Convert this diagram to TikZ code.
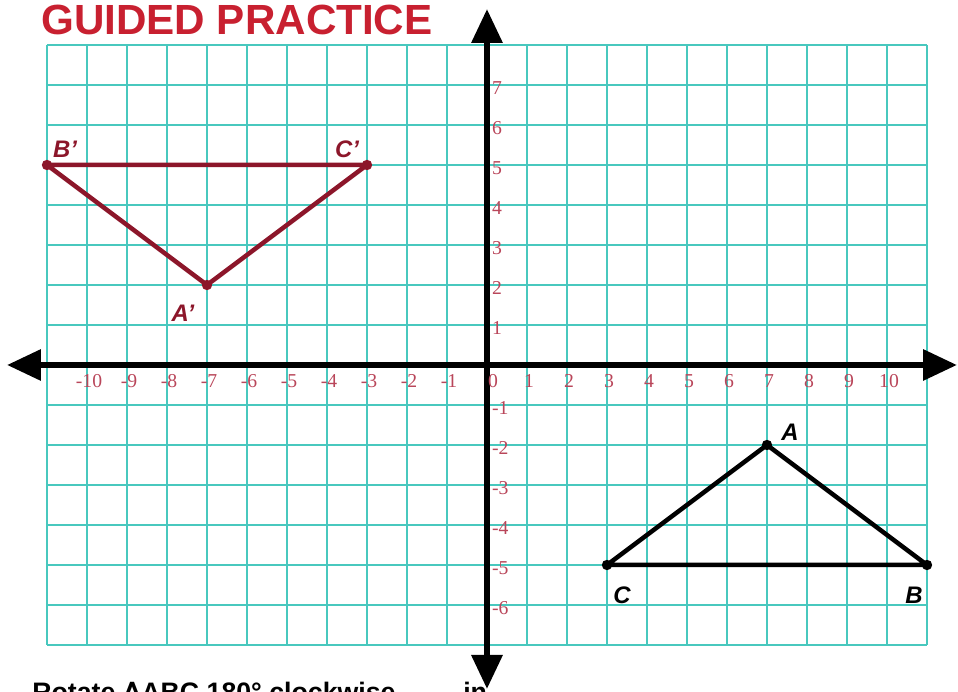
\documentclass[tikz,border=0pt]{standalone}
\usepackage{fontspec}
\setmainfont{Liberation Sans}
\newfontfamily\numfont{Liberation Serif}
\newfontfamily\symfont{DejaVu Sans}
\usepackage{tikz}
\usetikzlibrary{arrows.meta, positioning}

\definecolor{gridteal}{RGB}{72,200,190}
\definecolor{titlered}{RGB}{200,32,48}
\definecolor{primered}{RGB}{140,22,42}
\definecolor{ticklbl}{RGB}{185,70,90}

\begin{document}
\begin{tikzpicture}[
    grid_line/.style={gridteal, line width=1.4pt},
    axis_line/.style={line width=4.5pt, {Triangle[length=0.85cm,width=0.75cm]}-{Triangle[length=0.85cm,width=0.75cm]}},
    tick_lbl/.style={text=ticklbl, font=\numfont\fontsize{14}{14}\selectfont, inner sep=0pt},
    pt_node/.style={circle, fill, inner sep=0pt, minimum size=0.26cm},
    pt_lbl/.style={font=\bfseries\itshape\fontsize{17}{17}\selectfont, inner sep=0pt},
    tri_line/.style={line width=3.2pt, line join=round}
    ]
    \useasboundingbox (-12.175,-8.175) rectangle (11.775,9.125);

    % Title
    \node[anchor=base west, inner sep=0pt, text=titlered, font=\bfseries\fontsize{30}{30}\selectfont] (title) at (-11.15,8.25) {GUIDED PRACTICE};

    % Grid
    \draw[grid_line] (-11,-7) grid (11,8);

    % Axes
    \coordinate (xl) at (-12.0,0);
    \coordinate (xr) at (11.75,0);
    \coordinate (yb) at (0,-8.1);
    \coordinate (yt) at (0,8.9);
    \draw[axis_line] (xl) -- (xr);
    \draw[axis_line] (yb) -- (yt);

    % Tick labels
    \foreach \i in {-10,...,-1,1,2,...,10}
        \node[tick_lbl] (x\i) at (\i+0.05,-0.4) {\i};
    \node[tick_lbl] (x0) at (0.15,-0.4) {0};
    \foreach \j in {-6,...,-1,1,2,...,7}
        \node[tick_lbl, anchor=west] (y\j) at (0.12,\j-0.08) {\j};

    % Triangle ABC
    \node[pt_node] (A) at (7,-2) {};
    \node[pt_node] (B) at (11,-5) {};
    \node[pt_node] (C) at (3,-5) {};
    \draw[tri_line] (A.center) -- (B.center) -- (C.center) -- cycle;
    \node[pt_lbl] (lA) at (7.575,-1.675) {A};
    \node[pt_lbl] (lB) at (10.675,-5.75) {B};
    \node[pt_lbl] (lC) at (3.375,-5.75) {C};

    % Image A'B'C'
    \node[pt_node, primered] (Ap) at (-7,2) {};
    \node[pt_node, primered] (Bp) at (-11,5) {};
    \node[pt_node, primered] (Cp) at (-3,5) {};
    \draw[tri_line, primered] (Ap.center) -- (Bp.center) -- (Cp.center) -- cycle;
    \node[pt_lbl, text=primered] (lAp) at (-7.6,1.3) {A'};
    \node[pt_lbl, text=primered] (lBp) at (-10.55,5.4) {B'};
    \node[pt_lbl, text=primered] (lCp) at (-3.5,5.4) {C'};

    % Task text (cut off by the page edge)
    \node[anchor=base west, inner sep=0pt, font=\bfseries\fontsize{19}{19}\selectfont] (task) at (-11.375,-8.425) {Rotate {\symfont\bfseries ∆}ABC 180° clockwise};
    \node[anchor=base west, inner sep=0pt, font=\bfseries\fontsize{19}{19}\selectfont] (taskin) at (-0.6,-8.425) {in};
\end{tikzpicture}
\end{document}
